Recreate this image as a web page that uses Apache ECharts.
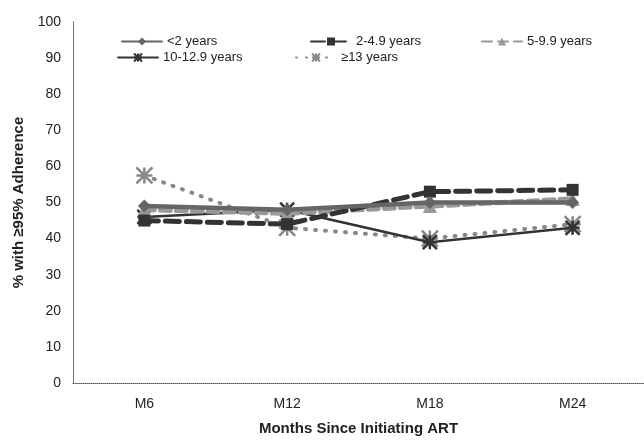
<!DOCTYPE html>
<html><head><meta charset="utf-8">
<script src="https://cdn.jsdelivr.net/npm/echarts@6/dist/echarts.min.js"></script>
<style>html,body{margin:0;padding:0;background:#fff}#c{width:644px;height:443px}</style>
</head><body><div id="c"></div>
<script>
const categories = ['M6', 'M12', 'M18', 'M24'];
const seriesNames = ['<2 years', '2-4.9 years', '5-9.9 years', '10-12.9 years', '≥13 years'];
const lt2 = [49, 48, 50, 50];
const y2to4 = [45, 44, 53, 53.5];
const y5to9 = [48, 47, 49, 51];
const y10to12 = [46, 48, 39, 43];
const ge13 = [57.5, 43, 40, 44];
const yTicks = [0, 10, 20, 30, 40, 50, 60, 70, 80, 90, 100];

const star = 'path://M0,0L10,10M10,0L0,10M5,0L5,10M0,5L10,5';
const FONT = 'Liberation Sans, Arial, sans-serif';

const styles = [
  {color:'#666', width:4.5, type:'solid', symbol:'diamond', size:13, data:lt2},
  {color:'#333', width:5, type:[14,7], symbol:'rect', size:12, data:y2to4},
  {color:'#999', width:5, type:[10,6], symbol:'triangle', size:14, data:y5to9},
  {color:'#333', width:2.5, type:'solid', symbol:star, size:14, data:y10to12},
  {color:'#888', width:4, type:[1,9], symbol:star, size:16, data:ge13}
];

const series = styles.map((s, i) => ({
  name: seriesNames[i], type: 'line', data: s.data,
  symbol: s.symbol, symbolSize: s.size,
  lineStyle: {color: s.color, width: s.width, type: s.type, cap: 'round'},
  itemStyle: {color: s.color, borderColor: s.color, borderWidth: s.symbol === star ? 2.5 : 0},
  z: 5 - i
}));

const legendPos = [
  {left: 116, top: 30}, {left: 305, top: 30}, {left: 476, top: 30},
  {left: 112, top: 46}, {left: 290, top: 46}
];
const legends = legendPos.map((p, i) => ({
  data: [seriesNames[i]], left: p.left, top: p.top,
  itemWidth: 40, itemHeight: 10, itemGap: 5,
  textStyle: {fontFamily: FONT, fontSize: 13, color: '#222'}
}));

const chart = echarts.init(document.getElementById('c'));
chart.setOption({
  backgroundColor: '#fff',
  animation: false,
  legend: legends,
  grid: {left: 73, right: 0, top: 22, bottom: 60},
  xAxis: {
    type: 'category', data: categories, boundaryGap: true,
    axisLine: {lineStyle: {color: '#555', width: 1, type: 'dotted'}},
    axisTick: {show: false},
    axisLabel: {fontFamily: FONT, fontSize: 14, color: '#222', margin: 14},
    name: 'Months Since Initiating ART', nameLocation: 'middle', nameGap: 38,
    nameTextStyle: {fontFamily: FONT, fontSize: 15, fontWeight: 'bold', color: '#222'}
  },
  yAxis: {
    type: 'value', min: yTicks[0], max: yTicks[yTicks.length - 1], interval: 10,
    axisLine: {show: true, lineStyle: {color: '#555', width: 1, type: 'dotted'}},
    axisTick: {show: false},
    splitLine: {show: false},
    axisLabel: {fontFamily: FONT, fontSize: 14, color: '#222', margin: 12},
    name: '% with ≥95% Adherence', nameLocation: 'middle', nameGap: 46, nameRotate: 90,
    nameTextStyle: {fontFamily: FONT, fontSize: 15, fontWeight: 'bold', color: '#222'}
  },
  series: series
});
</script></body></html>
